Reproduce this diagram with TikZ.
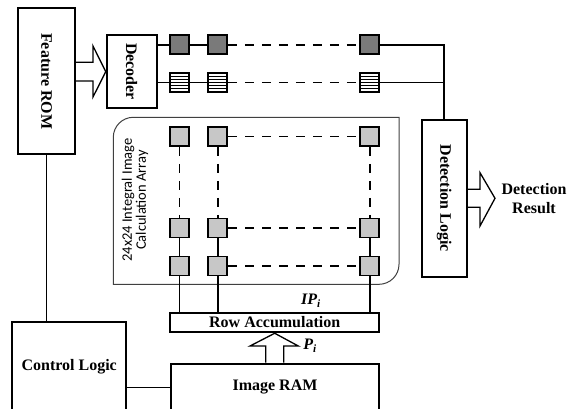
\documentclass[tikz,border=0pt]{standalone}
\usepackage{fontspec}
\setmainfont{Liberation Serif}
\newfontfamily\calfont{Carlito}
\usetikzlibrary{calc}
\begin{document}
\begin{tikzpicture}[x=1pt,y=-1pt,
  box/.style={draw,line width=1.9pt,inner sep=0pt,font=\fontsize{16}{18}\selectfont\bfseries},
  cell/.style={draw,line width=1.9pt,minimum size=19pt,inner sep=0pt},
  gcell/.style={cell,fill=black!22},
  dcell/.style={cell,fill=black!52},
  hcell/.style={cell,fill=white},
  hatch/.style={line width=1.6pt},
  wire/.style={line width=1.7pt},
  dwire/.style={line width=1.6pt,dash pattern=on 9pt off 8pt},
  barrow/.style={line width=1.3pt,line join=miter},
  lbl/.style={font=\fontsize{16}{19}\selectfont\bfseries}
]
\useasboundingbox (0,0) rectangle (575,408);
\clip (0,0) rectangle (575,408);

% main boxes
\node[box,minimum width=57pt,minimum height=146pt] (rom) at (46.5,81.2) {\rotatebox{-90}{Feature ROM}};
\node[box,minimum width=50pt,minimum height=73pt] (dec) at (131.7,71.5) {\rotatebox{-90}{Decoder}};
\node[box,minimum width=45pt,minimum height=156.7pt] (det) at (444.2,198.3) {\rotatebox{-90}{Detection Logic}};
\node[box,minimum width=209.3pt,minimum height=19.6pt] (row) at (274.7,322.5) {Row Accumulation};
\node[box,minimum width=208.6pt,minimum height=47.6pt,anchor=north] (ram) at (275,362.7) {Image RAM};
\node[box,minimum width=113.7pt,minimum height=90pt,anchor=north] (ctrl) at (69.2,320.7) {Control Logic};

% array frame
\draw[line width=1pt,black!75] (113.3,284.3) -- (113.3,137.3)
  .. controls (113.3,126.3) and (122.3,117.3) .. (133.3,117.3)
  -- (399,117.3) -- (399,264.3)
  .. controls (399,275.3) and (390,284.3) .. (379,284.3) -- cycle;
\node[rotate=90,align=center,font=\calfont\fontsize{14.5}{14}\selectfont] (arrlbl) at (135,200) {24x24 Integral Image\\Calculation Array};

% decoder output cells
\foreach \c/\x in {1/179.5,2/217.5,3/369.7}{
  \node[dcell] (d1\c) at (\x,44.7) {};
  \node[hcell] (d2\c) at (\x,82.5) {};
  \foreach \k in {-6,-3,0,3,6}{
    \draw[hatch] ($(d2\c.west)+(0,\k)$) -- ($(d2\c.east)+(0,\k)$);
  }
}
\foreach \r in {1,2}{
  \draw[wire] (dec.east |- d\r1) -- (d\r1);
  \draw[wire] (d\r1) -- (d\r2);
  \draw[dwire] (d\r2) -- (d\r3);
}
\draw[wire] (d13) -| (det.north);
\draw[wire] (d23) -- (d23 -| det.north);

% array cells
\foreach \c/\x in {1/179.5,2/217.7,3/369.7}{
  \node[gcell] (a1\c) at (\x,136.3) {};
  \node[gcell] (a2\c) at (\x,228) {};
  \node[gcell] (a3\c) at (\x,266) {};
  \draw[dwire] (a1\c) -- (a2\c);
  \draw[wire] (a2\c) -- (a3\c);
  \draw[wire] (a3\c) -- (a3\c |- row.north);
}
\foreach \r in {1,2,3}{
  \draw[dwire] (a\r2) -- (a\r3);
}

% control wires
\draw[wire] (rom.south) -- (rom.south |- ctrl.north);
\draw[wire] (ctrl.east |- ram.center) -- (ram.west |- ram.center);

% block arrows
\draw[barrow] (rom.east |- 0,62.3) -- (93,62.3) -- (93,46) -- (dec.west |- 0,71.7) -- (93,97) -- (93,81) -- (rom.east |- 0,81);
\draw[barrow] (det.east |- 0,189.3) -- (480,189.3) -- (480,172.7) -- (495,198.3) -- (480,226) -- (480,207.3) -- (det.east |- 0,207.3);
\draw[barrow] (ram.north -| 265.7,0) -- (265.7,346) -- (250,346) -- (row.south -| 274.7,0) -- (298.3,346) -- (283.7,346) -- (ram.north -| 283.7,0);

% labels
\node[lbl,align=center] (res) at (534,198.5) {Detection\\Result};
\node[lbl] (ip) at (311,300.7) {\textit{IP}\textsubscript{\textit{i}}};
\node[lbl] (p) at (310,346) {\textit{P}\textsubscript{\textit{i}}};
\end{tikzpicture}
\end{document}
